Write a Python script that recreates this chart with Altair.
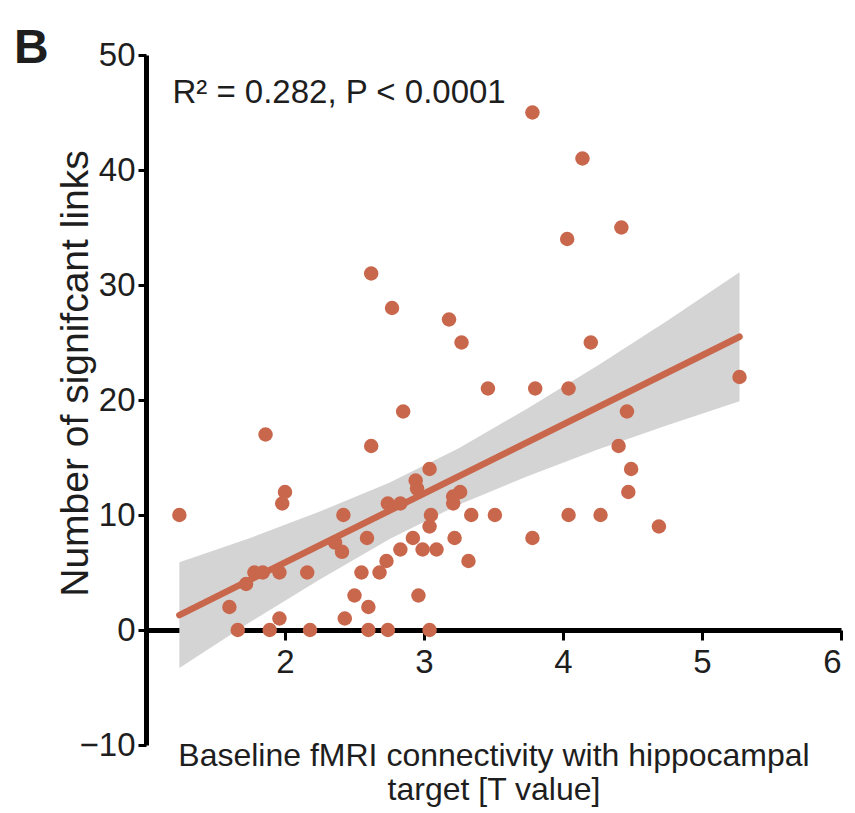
import altair as alt
import pandas as pd

# ---- data ----
t_value = [1.24, 1.86, 1.60, 1.66, 1.89, 1.96, 2.18, 1.72, 1.78, 1.84,
           1.96, 2.16, 1.98, 2.00, 2.36, 2.41, 2.59, 2.83, 2.99, 3.09,
           2.73, 2.55, 2.68, 2.50, 2.60, 2.43, 2.96, 2.60, 2.74, 3.04,
           3.22, 3.32, 3.78, 2.62, 3.04, 2.94, 2.95, 2.74, 2.83, 2.42,
           3.05, 3.04, 2.92, 3.26, 3.21, 3.21, 3.34, 3.51, 2.85, 2.62,
           2.77, 3.18, 3.27, 3.46, 3.78, 4.14, 4.03, 4.42, 4.20, 3.80,
           4.04, 5.27, 4.46, 4.40, 4.49, 4.47, 4.04, 4.27, 4.69]
n_links = [10, 17, 2, 0, 0, 1, 0, 4, 5, 5,
           5, 5, 11, 12, 7.6, 6.8, 8, 7, 7, 7,
           6, 5, 5, 3, 2, 1, 3, 0, 0, 0,
           8, 6, 8, 16, 14, 13, 12.3, 11, 11, 10,
           10, 9, 8, 12, 11.6, 11, 10, 10, 19, 31,
           28, 27, 25, 21, 45, 41, 34, 35, 25, 21,
           21, 22, 19, 16, 14, 12, 10, 10, 9]

fit_x = [1.24, 5.27]
fit_y = [1.3, 25.5]

band_x = [1.24, 1.75, 2.25, 2.75, 3.25, 3.75, 4.25, 4.75, 5.27]
band_lo = [-3.3, 0.7, 4.4, 7.9, 10.9, 13.4, 15.7, 17.8, 19.9]
band_hi = [5.9, 8.0, 10.3, 12.8, 15.8, 19.3, 23.0, 26.9, 31.1]

ann_text = ["R² = 0.282, P < 0.0001"]
ann_x = [1.19]
ann_y = [46.7]

panel_label = ["B"]

x_ticks = [2, 3, 4, 5, 6]
y_ticks = [-10, 0, 10, 20, 30, 40, 50]

pts = pd.DataFrame({"t": t_value, "n": n_links})
fit = pd.DataFrame({"t": fit_x, "n": fit_y})
band = pd.DataFrame({"t": band_x, "lo": band_lo, "hi": band_hi})
ann = pd.DataFrame({"t": ann_x, "n": ann_y, "label": ann_text})
lab = pd.DataFrame({"label": panel_label})

DOT = "#c9674c"
FONT = "Liberation Sans"
FS = 33
INK = "#1e1e1e"

xscale = alt.Scale(domain=[1, 6], nice=False, zero=False)
yscale = alt.Scale(domain=[-10, 50], nice=False, zero=False)

x_axis = alt.Axis(
    values=x_ticks, format="d", offset=-115, grid=False,
    domainColor="black", domainWidth=5, tickColor="black", tickWidth=3, tickSize=10,
    labelFont=FONT, labelFontSize=FS, labelColor=INK, labelPadding=6,
    title=["Baseline fMRI connectivity with hippocampal", "target [T value]"],
    titleFont=FONT, titleFontSize=32, titleFontWeight="normal", titleColor=INK,
    titleBaseline="alphabetic", titleY=135, titleLineHeight=34,
)
y_axis = alt.Axis(
    values=y_ticks, format="d", grid=False,
    domainColor="black", domainWidth=5, tickColor="black", tickWidth=3, tickSize=8,
    labelFont=FONT, labelFontSize=FS, labelColor=INK, labelPadding=3,
    title="Number of signifcant links",
    titleFont=FONT, titleFontSize=39, titleFontWeight="normal", titleColor=INK,
    titleAngle=270, titleX=-71, titleY=318, titleBaseline="middle", titleAlign="center",
)

X = lambda f: alt.X(f, type="quantitative", scale=xscale, axis=x_axis)
Y = lambda f: alt.Y(f, type="quantitative", scale=yscale, axis=y_axis)

band_layer = alt.Chart(band).mark_area(color="#d4d4d4", opacity=1).encode(
    x=X("t"), y=Y("lo"), y2="hi")
pts_layer = alt.Chart(pts).mark_circle(size=210, color=DOT, opacity=1).encode(
    x=X("t"), y=Y("n"))
fit_layer = alt.Chart(fit).mark_line(color=DOT, strokeWidth=6.5, strokeCap="round").encode(
    x=X("t"), y=Y("n"))
ann_layer = alt.Chart(ann).mark_text(
    align="left", baseline="middle", font=FONT, fontSize=FS, color=INK).encode(
    x=X("t"), y=Y("n"), text="label:N")
label_layer = alt.Chart(lab).mark_text(
    align="left", baseline="alphabetic", font=FONT, fontSize=48, fontWeight="bold",
    color=INK).encode(x=alt.value(-132), y=alt.value(8), text="label:N")

chart = alt.layer(band_layer, pts_layer, fit_layer, ann_layer, label_layer).properties(
    width=695, height=690,
    autosize=alt.AutoSizeParams(type="none"),
    padding={"left": 138, "top": 47, "right": 6, "bottom": 63},
).configure_view(stroke=None)

chart.save("out.html", embed_options={"renderer": "svg", "actions": False})
